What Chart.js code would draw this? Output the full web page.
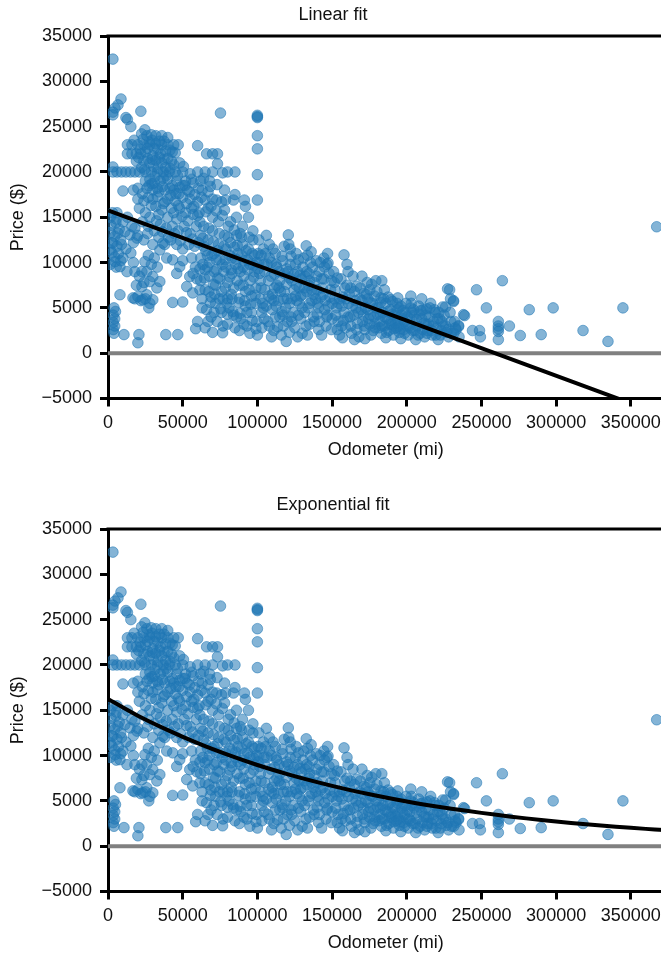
<!DOCTYPE html>
<html>
<head>
<meta charset="utf-8">
<script src="https://cdn.jsdelivr.net/npm/chart.js@4"></script>
<style>
html,body{margin:0;padding:0;background:#fff;overflow:hidden;width:661px;height:956px;}
canvas{display:block;}
</style>
</head>
<body>
<canvas id="c1" width="670" height="478"></canvas>
<canvas id="c2" width="670" height="478"></canvas>
<script>
// ---- tick labels / axis ranges ----
const xTicks = [0, 50000, 100000, 150000, 200000, 250000, 300000, 350000];
const yTicks = [-5000, 0, 5000, 10000, 15000, 20000, 25000, 30000, 35000];
const xRange = [0, 372000];
const yRange = [-5000, 35000];

// ---- listings: [odometer (mi), price ($)] ----
const outlierListings = [
  [3300,32450],[8700,28050],[6700,27400],[4700,27050],[3300,26600],[3300,26300],[22000,26700],
  [75300,26500],[100000,26100],[100000,26000],[100000,26250],[12000,26000],[13000,25800],[15300,25000],
  [24700,24650],[100000,24000],[100000,22550],[100000,19700],[100000,16900],[60000,22900],[66000,22000],
  [70000,22000],[73300,22000],[73300,20900],[76700,19900],[68000,19000],[78000,18000],[72700,16900],
  [78700,16900],[84000,16900],[91300,16900],[10000,17900],[3300,20550],[3300,20000],
  [4000,5000],[5000,4600],[3500,4200],[4500,3800],[3500,3400],[4500,3000],[3500,2600],[4000,2200],
  [10700,2050],[20700,2050],[20000,1150],[38700,2050],[46700,2050],[58700,2700],[76700,2250],[8000,6450],
  [27300,5000],[43300,5600],[50000,5650],[54700,8450]
];
const highMileageListings = [
  [120700,13050],[122000,11500],[132700,11850],[158000,10850],[147300,9950],[160700,9000],[179300,8000],
  [183300,8000],[175300,7000],[174000,6000],[182700,6100],[189300,5900],[194000,6100],[202700,6300],
  [210000,6000],[227300,7100],[229300,6000],[231300,5700],[224000,5100],[226000,5100],[213300,4900],
  [202700,5000],[194700,5000],[238000,4250],[234700,2950],[119300,1300],
  [367300,13950],[264000,8000],[246700,7000],[228700,7000],[231300,5800],[253300,5000],[282000,4800],
  [298000,5000],[344700,5000],[238700,4150],[234700,3050],[244000,2500],[248700,2500],[249300,1800],
  [261300,3500],[261300,3000],[261300,2700],[261300,2400],[261300,1500],[268700,3000],[276000,1950],
  [290000,2050],[318000,2500],[334700,1300]
];
const lowMileageListings = [
  [1500,15000],[5500,14800],[2000,14100],[7500,13700],[1500,13300],[4500,12900],[8500,12500],[2500,12200],
  [6000,11800],[1500,11400],[2700,11050],[4500,10600],[8500,10200],[1500,9800],[5500,9500],[5300,14400],
  [6700,13250],[11300,13400],[14700,13050],[19300,12700],[3300,12150],[15300,11050],[4700,10100],[8000,9550],
  [12700,9000],[9000,12000],[12000,11500],[7000,11000],[17000,12200],[18000,13800],[10000,14500],[6000,15500],
  [13000,15000],[16000,14000],[3000,15500],[10000,10500],[17000,10000],[18000,9000],
  [26000,24000],[29000,24100],[32000,24000],[36000,24000],[40000,23800],
  [13000,23000],[16000,23000],[20000,23000],[24000,23000],[28000,23000],[32000,23100],[36000,23000],
  [40000,23000],[44000,23000],[47000,23000],
  [13000,22000],[16000,22000],[19000,22000],[22000,22000],[25000,22200],[30000,21800],[35000,22000],[40000,21500],
  [24000,21200],[28000,21000],[32000,21300],[36000,21000],[44000,20800],[48000,21000],
  [6000,20000],[9000,20000],[12000,20000],[15000,20000],[18000,20000],[21000,20000],[25000,20000],[29000,20000],
  [33000,20000],[37000,20000],[41000,20000],[45000,20000],[50000,20000],[55000,19800],[60000,20000],[65000,20000],
  [70000,20000],[80000,20000],[85000,20000],
  [25000,19000],[28000,19200],[31000,18800],[35000,19000],[40000,19200],[46000,19000],[52000,19000],[57000,18800],
  [62000,19000],
  [17000,18000],[20000,18200],[30000,18000],[34000,17800],[38000,18000],[44000,18000],[48000,18300],[53000,18000],
  [58000,17500],[63000,18000],[67000,17800],
  [20000,17000],[24000,16800],[30000,17000],[40000,17000],[45000,16800],[50000,17200],[55000,17000],[60000,16700],
  [65000,16900],[70000,17000],
  [21000,16000],[25000,15500],[28000,15000],[32000,16200],[36000,15800],[40000,15000],[44000,15500],[48000,16000],
  [52000,15500],[56000,16000],[60000,15200],[23000,14500],[27000,14000],[31000,13500],[35000,14200],[39000,13800],
  [43000,14000],[47000,13500],[51000,14000],[55000,13200],[59000,14000],[20000,13000],[24000,12500],[30000,12000],
  [34000,12800],[38000,12000],[42000,12500],[46000,12000],[50000,11500],[54000,12000],[58000,11800],
  [24700,10100],[22700,9000],[26000,9000],[28000,7900],[22700,7350],[20000,6250],[26000,6450],[32700,7200],
  [34700,7900],[30000,8450],[23300,5900],[18000,6000],[30000,5900],[16700,6100],[22000,5800],[25000,6000],
  [28000,5500],[36700,12150],[39300,10500],[34700,11400],[43300,10300],[48000,9550],[52700,7350],[56700,6650],
  [19000,7500],[21000,8500],[24000,7800],[27000,10800],[29000,9800],[31000,10500],[33000,9500],[46000,8800],
  [50000,10200],[57000,8800]
];
const upperCoreListings = [
  [17500,23500],[21500,22500],[23500,23600],[26500,22600],[29500,23500],[33500,22500],[37500,23400],[41500,22400],
  [45000,22100],[19000,21200],[22500,20500],[26500,21500],[30500,20600],[34500,21600],[38500,20500],[42500,21200],
  [46500,19600],[50500,20600],[27500,18500],[31500,19500],[36500,18400],[39000,19600],[43000,18500],[47500,17600],
  [51500,18500],[56000,19200],[60500,18200],[64000,19300],[23000,17600],[27000,17200],[33000,17300],[37000,16500],
  [42000,17400],[47000,16300],[52500,16500],[57500,16200],[62500,17200],[68500,18400],[73000,18600],[29000,16300],
  [34000,15300],[38000,16700],[42500,16000],[46000,14800],[49500,15100],[53500,14600],[57000,15300],[61500,14500],
  [65500,15600],[69000,16200],[72500,15700],[76500,15200],[80500,14000],[84500,13600],[88500,13200],[26500,13200],
  [32500,14600],[36500,13400],[40500,12800],[44500,13200],[48500,12400],[52500,13300],[56500,12600],
  [22500,24200],[27500,23300],[31000,22600],[34500,23400],[38500,22300],[43000,22200],[20500,21600],[24500,20300],
  [29500,21400],[33500,20400],[37500,21400],[41500,20400],[26000,18200],[29500,18700],[33000,18200],[37000,19300],
  [41500,18200],[45500,17600],[50000,18500],[54500,17800]
];
const midMileageListings = [
  [61000,15500],[62000,13000],[62000,10500],[62000,8000],[63000,6000],[63000,5000],[64000,14000],[64000,11800],
  [65000,9200],[65000,7000],[66000,4800],[67000,16000],[67000,12500],[68000,10000],[68000,8500],[69000,6200],
  [69000,4000],[70000,15000],[70000,13500],[71000,11000],[71000,9000],[72000,7500],[72000,5500],[73000,3500],
  [74000,14500],[74000,12000],[75000,10300],[75000,8200],[76000,6800],[76000,4500],[77000,3000],[78000,15800],
  [78000,13000],[79000,11500],[79000,9500],[80000,7800],[80000,6000],[81000,5000],[82000,14500],[82000,12200],
  [83000,10500],[83000,8800],[84000,7200],[84000,4200],[85000,2800],[86000,15000],[86000,13000],[87000,11000],
  [87000,9300],[88000,7500],[88000,6000],[89000,3800],[90000,14000],[90000,12000],[91000,10200],[91000,8500],
  [92000,6800],[92000,5200],[93000,3000],[94000,15000],[94000,11500],[95000,9800],[95000,8000],[96000,6300],
  [96000,4500],[97000,13500],[97000,12500],[98000,10800],[98000,9000],[99000,7200],[99000,5500],[99500,3500],
  [100000,2000],[95000,2200],[88000,2500],[65000,2800],[60000,3500],[70000,2300],[80000,3200],[92000,16200],
  [85000,17500],[76000,16700],
  [101000,12500],[101000,10000],[102000,8000],[102000,6000],[103000,4500],[103000,2800],[104000,11500],[105000,9000],
  [105000,7000],[106000,5200],[107000,3500],[108000,12000],[108000,10500],[109000,8500],[110000,6500],[110000,4800],
  [111000,2500],[112000,11000],[113000,9500],[113000,7500],[114000,5800],[115000,4000],[116000,2000],[117000,10200],
  [118000,8800],[118000,6800],[119000,5000],[120000,3500],[121000,12000],[122000,9800],[123000,8000],[123000,6000],
  [124000,4500],[125000,2800],[126000,11000],[127000,9000],[128000,7200],[128000,5500],[129000,3800],[130000,2200],
  [131000,10500],[132000,8500],[133000,6800],[134000,5000],[135000,3200],[136000,11200],[137000,9500],[138000,7800],
  [139000,6000],[140000,4300],[141000,2600],[142000,10000],[143000,8200],[144000,6500],[145000,4800],[146000,3000],
  [147000,11000],[148000,8800],[149000,7000],[150000,5500],[150000,3800],[104000,5000],[112000,4000],[120000,6000],
  [126000,7500],[133000,9000],[140000,7000],[145000,9500],[138000,3500],[130000,5000],[115000,8000],[108000,3000],
  [143000,2000],[127000,1800],[135000,8000],[118000,11800],[106000,13000]
];
const lowerCoreListings = [
  [56000,10500],[58500,9500],[59500,8200],[61500,7000],[63500,9800],[64500,8300],[66500,10800],[67500,6800],
  [68500,5600],[70500,7600],[71500,6500],[72500,10300],[73500,8300],[74500,6000],[75500,4900],[77500,9000],
  [78500,7200],[79500,5500],[81500,8400],[82500,6500],[83500,4600],[85500,9800],[86500,8000],[87500,5600],
  [88500,4400],[89500,10800],[90500,7500],[91500,5800],[93500,9200],[94500,7000],[95500,5400],[96500,3600],
  [97500,8400],[98500,6400],[100500,11000],[101500,8800],[102500,7200],[103500,5500],[104500,3800],[106500,9800],
  [107500,8000],[109500,6000],[110500,11500],[111500,7200],[112500,5200],[114500,9000],[115500,6800],[116500,4600],
  [117500,3000],[119500,7600],[120500,9000],[121500,5500],[122500,4000],[124500,7000],[125500,9800],[126500,5800],
  [127500,4200],[129500,8200],[130500,6500],[131500,4500],[132500,3000],[134500,7500],[135500,10000],[136500,5800],
  [137500,4000],[139500,8500],[140500,5500],[141500,3500],[143500,7200],[144500,10500],[145500,5800],[146500,4000],
  [148500,6200],[149500,2600],[113500,2900],[121500,2300],[133500,2000],[109500,1800],[99000,2700],[91000,3200],
  [60500,12200],[61500,9300],[63500,12700],[65500,11300],[66500,9500],[67500,13800],[69500,10800],[70500,12300],
  [72500,9200],[73500,11300],[74500,13200],[76500,9800],[77500,11800],[78500,10300],[80500,12800],[81500,10800],
  [82500,9200],[84500,11700],[85500,10400],[86500,11900],[88500,9000],[89500,12800],[90500,9500],[92500,11300],
  [93500,10300],[94500,12800],[96500,11000],[97500,9700],[99500,10000],[83000,6000],[77000,6000],[71000,4500],
  [67000,3500],[93000,4500],[86000,4000],[80000,4300],
  [100500,9300],[102500,10800],[104500,9800],[105500,11000],[107500,6300],[109500,10000],[111500,8700],[112500,9800],
  [114500,7200],[116500,10700],[117500,6000],[119500,9300],[121500,8300],[122500,10700],[124500,8700],[125500,6300],
  [127500,10300],[128500,8600],[130500,9500],[131500,7200],[133500,10800],[134500,8800],[136500,7000],[137500,6500],
  [139500,10200],[141500,9000],[142500,6200],[144500,8200],[146500,9800],[147500,5200],[149500,8000],[111000,5800],
  [117000,4200],[123000,3500],[129000,6300],[135000,5500],[141000,5000],[147000,4200]
];
const longMileageListings = [
  [151000,9000],[152000,7000],[153000,5000],[154000,3500],[155000,2000],[156000,8200],[157000,6200],[158000,4500],
  [159000,2800],[160000,7500],[161000,5500],[162000,4000],[163000,2200],[164000,8500],[165000,6800],[166000,5000],
  [167000,3300],[168000,1800],[169000,7200],[170000,5800],[171000,4200],[172000,2600],[173000,6500],[174000,4800],
  [175000,3200],[176000,2000],[177000,5500],[178000,4000],[179000,2800],[180000,6800],[181000,5000],[182000,3500],
  [183000,2200],[184000,4500],[185000,3000],[186000,5500],[187000,3800],[188000,2500],[189000,4800],[190000,3200],
  [191000,2000],[192000,4200],[193000,2800],[194000,3600],[195000,2300],[196000,5200],[197000,3800],[198000,2600],
  [199000,4500],[200000,3000],[160000,9800],[170000,8500],[155000,6000],[185000,7000],[165000,1500],
  [201000,2000],[202000,3800],[203000,5500],[204000,2500],[205000,4200],[206000,1500],[207000,3000],[208000,5200],
  [209000,2200],[210000,3800],[211000,4800],[212000,1800],[213000,3200],[214000,2500],[215000,4000],[216000,5500],
  [217000,2000],[218000,3500],[219000,4500],[220000,2800],[221000,1500],[222000,3800],[223000,2500],[225000,4200],
  [226000,3000],[228000,1800],[230000,2200],[232000,3500],[235000,1800],[233000,2600],
  [151500,6000],[152500,4200],[153500,2600],[156500,5200],[157500,3600],[158500,7200],[161500,6500],[162500,3000],
  [164500,4200],[165500,5800],[166500,2600],[169500,4800],[170500,3500],[171500,6600],[174500,3800],[175500,5600],
  [176500,7600],[178500,3200],[179500,5000],[181500,2800],[182500,4200],[184500,6000],[186500,2300],[187500,4600],
  [189500,3600],[190500,5700],[192500,3300],[193500,4800],[195500,2700],[196500,4200],[198500,3500],[199500,5500],
  [201500,3000],[203500,4500],[205500,2500],[206500,3700],[208500,4300],[210500,2600],[212500,4200],[214500,3200],
  [216500,2500],[218500,4800],[220500,3800],[222500,2000],[224500,3000],[227500,2600],[229500,3500],[231500,2200],
  [157000,1700],[172000,1600],[186000,1700],[196000,1600],
  [151500,7800],[153500,8300],[154500,5500],[156500,3000],[159500,6000],[160500,4000],[162500,7200],[163500,5200],
  [166500,7400],[167500,4500],[168500,6000],[171500,3000],[172500,5000],[173500,7800],[175500,4200],[177500,2500],
  [178500,6300],[180500,4300],[182500,5600],[183500,3000],[185500,4000],[187500,6200],[188500,3200],[190500,4300],
  [191500,2700],[193500,5500],[194500,3000],[197500,4700],[198500,2200],[200500,4000],[202500,2800],[204500,4800],
  [207500,2000],[209500,4700],[211500,3300],[213500,2200],[215500,5000],[217500,3000],[219500,2000],[221500,4500],
  [223500,3500],[226500,2300],[229000,4500],[232500,2800]
];

// ---- fitted curves ----
const linearFitX = [0, 372000];
const linearFitY = [15750, -6870];
const expFitX = [0,20000,40000,60000,80000,100000,120000,140000,160000,180000,200000,220000,240000,260000,280000,300000,320000,340000,360000,372000];
const expFitY = [16250,14400,12810,11370,10100,8960,7960,7070,6270,5570,4940,4390,3900,3460,3070,2730,2420,2150,1910,1780];
const zeroLineX = [0, 372000];
const zeroLineY = [0, 0];

// ---- build ----
const allListings = [].concat(outlierListings, highMileageListings, lowMileageListings, upperCoreListings,
  midMileageListings, lowerCoreListings, longMileageListings);
const scatterPts = allListings.map(p => ({x: p[0], y: p[1]}));
const toPts = (xs, ys) => xs.map((x, i) => ({x: x, y: ys[i]}));

const FONT = "'Liberation Sans', Arial, Helvetica, sans-serif";
const TXT = '#111';
const fmt = v => (v < 0 ? '\u2212' + Math.abs(v) : String(v));

const topSpine = {
  id: 'topSpine',
  afterDraw(chart) {
    const {ctx, chartArea} = chart;
    ctx.save();
    ctx.strokeStyle = '#000';
    ctx.lineWidth = 3;
    ctx.beginPath();
    ctx.moveTo(chartArea.left - 1.5, chartArea.top);
    ctx.lineTo(chartArea.right + 10, chartArea.top);
    ctx.stroke();
    ctx.restore();
  }
};

function makeChart(id, titleText, fitPts, cfg) {
  return new Chart(document.getElementById(id), {
    type: 'scatter',
    data: {
      datasets: [
        {
          data: fitPts, type: 'line', showLine: true, borderColor: '#000', borderWidth: 4,
          pointRadius: 0, fill: false, tension: 0.3, order: 0
        },
        {
          data: toPts(zeroLineX, zeroLineY), type: 'line', showLine: true, borderColor: '#808080',
          borderWidth: 4, pointRadius: 0, fill: false, order: 1
        },
        {
          data: scatterPts, backgroundColor: 'rgba(31,119,180,0.55)', borderColor: 'rgba(31,119,180,0.55)',
          borderWidth: 1, pointRadius: 5.3, pointHoverRadius: 5.3, order: 2
        }
      ]
    },
    options: {
      responsive: false,
      animation: false,
      events: [],
      layout: {padding: {left: 0, right: 4, top: 0, bottom: cfg.padBottom}},
      plugins: {
        legend: {display: false},
        tooltip: {enabled: false},
        title: {
          display: true, text: titleText, color: TXT,
          font: {family: FONT, size: 18, weight: 'normal', lineHeight: 1.2},
          padding: {top: cfg.titleTop, bottom: cfg.titleBottom}
        }
      },
      scales: {
        x: {
          type: 'linear', min: xRange[0], max: xRange[1], z: 1,
          afterBuildTicks: s => { s.ticks = xTicks.map(v => ({value: v})); },
          afterFit: s => { s.height = 64.5; },
          ticks: {color: TXT, font: {family: FONT, size: 18}, padding: 6, maxRotation: 0, autoSkip: false, callback: fmt},
          grid: {display: true, drawOnChartArea: false, drawTicks: true, tickLength: 8, tickWidth: 3, tickColor: '#000', color: '#000', lineWidth: 3},
          border: {display: true, color: '#000', width: 3},
          title: {display: true, text: 'Odometer (mi)', color: TXT, font: {family: FONT, size: 18, lineHeight: 1.2}, padding: {top: 0, bottom: 2}}
        },
        y: {
          type: 'linear', min: yRange[0], max: yRange[1], z: 1,
          afterBuildTicks: s => { s.ticks = yTicks.map(v => ({value: v})); },
          afterFit: s => { s.width = 108; },
          ticks: {color: TXT, font: {family: FONT, size: 18}, padding: 8, autoSkip: false, callback: fmt},
          grid: {display: true, drawOnChartArea: false, drawTicks: true, tickLength: 8, tickWidth: 3, tickColor: '#000', color: '#000', lineWidth: 3},
          border: {display: true, color: '#000', width: 3},
          title: {display: true, text: 'Price ($)', color: TXT, font: {family: FONT, size: 18, lineHeight: 1.2}, padding: {top: 7.5, bottom: 0}}
        }
      }
    },
    plugins: [topSpine]
  });
}

makeChart('c1', 'Linear fit', toPts(linearFitX, linearFitY), {padBottom: 15, titleTop: 4.7, titleBottom: 9.7});
makeChart('c2', 'Exponential fit', toPts(expFitX, expFitY), {padBottom: 0, titleTop: 16.2, titleBottom: 13.2});
</script>
</body>
</html>
